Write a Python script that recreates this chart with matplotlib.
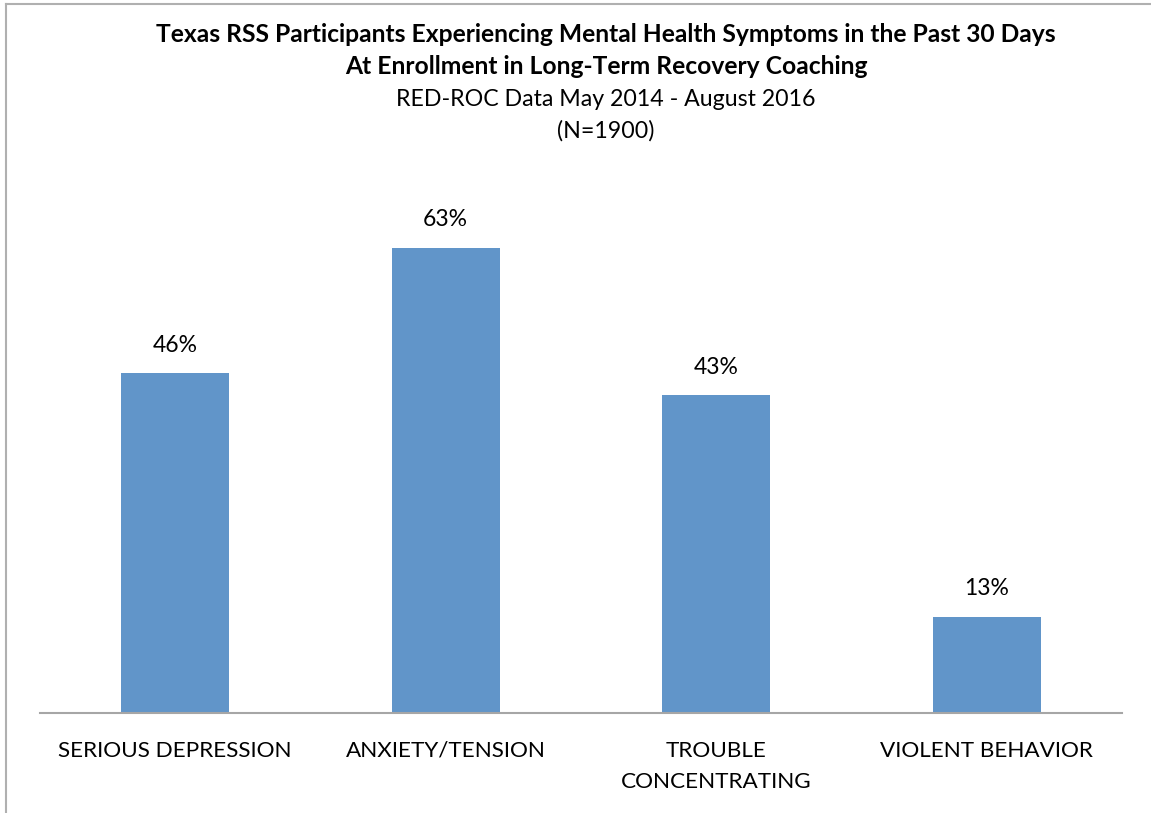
import numpy as np
import matplotlib.pyplot as plt
from matplotlib.lines import Line2D

###########################################################
### Data
categories = ["SERIOUS DEPRESSION", "ANXIETY/TENSION", "TROUBLE\nCONCENTRATING", "VIOLENT BEHAVIOR"]
values = [46, 63, 43, 13]

###########################################################
### Plot
plt.rcParams['font.family'] = ['Lato', 'DejaVu Sans']

W, H = 1151, 813
fig = plt.figure(figsize=(W / 100, H / 100), dpi=100)
ax = fig.add_axes([40 / W, 1 - 713 / H, 1082 / W, (713 - 196) / H])

x = np.arange(len(categories))
bars = ax.bar(x, values, width=0.4, color='#6195c9')
ax.set_xlim(-0.5, len(categories) - 0.5)
ax.set_ylim(0, 70)

for xi, v in zip(x, values):
    ax.text(xi, v + 2.4, f"{v}%", ha='center', va='bottom', fontsize=16.5)

ax.set_xticks(x)
ax.set_xticklabels(categories, fontsize=16.2, va='top', linespacing=1.72)
ax.tick_params(axis='x', length=0, pad=20)
ax.set_yticks([])
for s in ['top', 'right', 'left']:
    ax.spines[s].set_visible(False)
ax.spines['bottom'].set_color('#a6a6a6')
ax.spines['bottom'].set_linewidth(1.5)

# titles
fig.text(606 / W, 1 - 35 / H, "Texas RSS Participants Experiencing Mental Health Symptoms in the Past 30 Days",
         ha='center', va='center', fontsize=17.7, fontweight='bold')
fig.text(606 / W, 1 - 67 / H, "At Enrollment in Long-Term Recovery Coaching",
         ha='center', va='center', fontsize=17.7, fontweight='bold')
fig.text(606 / W, 1 - 99 / H, "RED-ROC Data May 2014 - August 2016",
         ha='center', va='center', fontsize=16.7)
fig.text(606 / W, 1 - 131 / H, "(N=1900)",
         ha='center', va='center', fontsize=16.7)

# chart border (left and top visible)
fig.add_artist(Line2D([5.5 / W, 5.5 / W], [0, 1 - 4.5 / H], color='#b0b0b0', lw=1.5))
fig.add_artist(Line2D([5.5 / W, 1], [1 - 4.5 / H, 1 - 4.5 / H], color='#b0b0b0', lw=1.5))

fig.savefig("out.png", dpi=100)
